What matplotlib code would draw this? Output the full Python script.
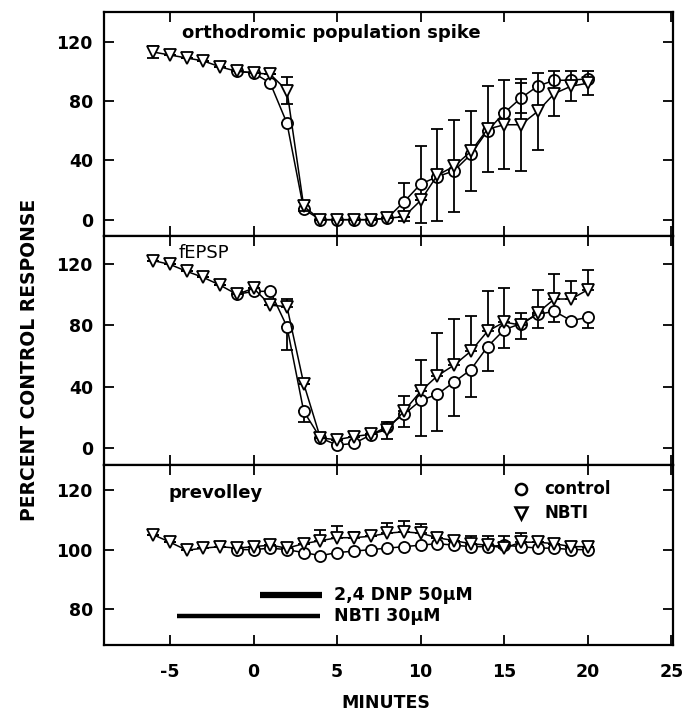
import matplotlib
matplotlib.use("Agg")
import matplotlib.pyplot as plt

# time axis (minutes)
min_nbti = [-6, -5, -4, -3, -2, -1, 0, 1, 2, 3, 4, 5, 6, 7, 8, 9, 10, 11, 12, 13, 14, 15, 16, 17, 18, 19, 20]
min_ctrl = [-1, 0, 1, 2, 3, 4, 5, 6, 7, 8, 9, 10, 11, 12, 13, 14, 15, 16, 17, 18, 19, 20]

# orthodromic population spike
spike_nbti = [113, 111, 109, 107, 103, 100, 99, 98, 87, 9, 0, 0, 0, 0, 1, 2, 13, 30, 36, 46, 61, 64, 64, 73, 85, 90, 92]
spike_nbti_err = [4, 0, 0, 0, 0, 0, 0, 0, 9, 3, 0, 0, 0, 0, 0, 0, 0, 31, 31, 27, 29, 30, 31, 26, 15, 10, 8]
spike_ctrl = [100, 99, 92, 65, 7, 0, 0, 0, 0, 1, 12, 24, 29, 33, 44, 60, 72, 82, 90, 94, 94, 95]
spike_ctrl_err = [0, 0, 0, 0, 0, 0, 0, 0, 0, 0, 13, 26, 0, 0, 0, 0, 0, 10, 0, 0, 0, 0]

# fEPSP
fepsp_nbti = [122, 119.5, 115, 111, 106, 100, 104, 93, 92, 42, 6.5, 5.5, 7.5, 9, 12, 24, 37, 47, 54, 63, 76, 82, 80, 88, 97, 97, 103]
fepsp_nbti_err = [0, 0, 0, 0, 0, 0, 0, 0, 5, 0, 0, 0, 0, 0, 5, 10, 20, 28, 30, 23, 26, 22, 8, 15, 16, 12, 13]
fepsp_ctrl = [100, 102, 102, 79, 24, 6.5, 2, 3, 8.5, 14, 22, 31, 35, 43, 51, 66, 77, 81, 87, 89, 83, 85]
fepsp_ctrl_err = [0, 0, 0, 15, 7, 0, 0, 0, 0, 8, 8, 23, 24, 22, 18, 16, 12, 10, 9, 7, 0, 7]

# prevolley
pv_nbti = [105, 102.5, 99.8, 100.5, 101, 100.5, 101, 101.5, 100.5, 102, 103, 104, 104, 104.5, 105.5, 106, 105.5, 104, 103, 102, 101.5, 100.5, 102.5, 102.5, 102, 101, 101]
pv_nbti_err = [0, 0, 0, 0, 0, 0, 0, 0, 0, 0, 3.5, 4, 2, 0, 3.5, 3.5, 3, 0, 0, 2.5, 3, 4, 3, 0, 0, 0, 0]
pv_ctrl = [100, 100, 100.5, 100, 99, 98, 99, 99.5, 100, 100.5, 101, 101.5, 102, 101.5, 101, 101, 101.5, 101, 100.5, 100.5, 100, 100]

# drug application periods
dnp_period = [0.4, 4.1]
nbti_period = [-4.6, 4.0]

plt.rcParams["font.family"] = "DejaVu Sans"
plt.rcParams["axes.unicode_minus"] = False

W, H = 684, 714
fig = plt.figure(figsize=(W / 100, H / 100), dpi=100)

left, right = 104 / W, 673 / W
edges = [12, 236, 465, 645]
ylims = [(-11, 140), (-11, 138), (68, 128.4)]
yticks = [[0, 40, 80, 120], [0, 40, 80, 120], [80, 100, 120]]

axes = []
for i in range(3):
    top = 1 - edges[i] / H
    bot = 1 - edges[i + 1] / H
    ax = fig.add_axes([left, bot, right - left, top - bot])
    ax.set_xlim(-8.95, 25.1)
    ax.set_ylim(*ylims[i])
    ax.set_yticks(yticks[i])
    ax.set_xticks([-5, 0, 5, 10, 15, 20, 25])
    ax.tick_params(direction="in", top=True, right=True, length=7, width=1.3,
                   labelsize=12.5)
    ax.tick_params(axis="y", pad=8)
    ax.tick_params(axis="x", pad=13)
    for lab in ax.get_yticklabels():
        lab.set_fontweight("bold")
    for s in ax.spines.values():
        s.set_linewidth(1.6)
    if i < 2:
        ax.tick_params(labelbottom=False)
    axes.append(ax)

for lab in axes[2].get_xticklabels():
    lab.set_fontweight("bold")

tri = dict(marker="v", ms=8.5, mfc="white", mec="black", mew=1.3, color="black", lw=1.1)
circ = dict(marker="o", ms=8, mfc="white", mec="black", mew=1.3, color="black", lw=1.1)
ebar = dict(ecolor="black", elinewidth=1.3, capsize=4, capthick=1.3)

# top: symmetric bars
ax = axes[0]
ax.errorbar(min_ctrl, spike_ctrl, yerr=spike_ctrl_err, zorder=2, **circ, **ebar)
ax.errorbar(min_nbti, spike_nbti, yerr=spike_nbti_err, zorder=3, **tri, **ebar)
ax.text(-4.3, 126, "orthodromic population spike", fontsize=13, va="center",
        fontweight="bold")

# middle: NBTI bars up, control bars down
ax = axes[1]
zeros_n = [0] * len(min_nbti)
zeros_c = [0] * len(min_ctrl)
ax.errorbar(min_ctrl, fepsp_ctrl, yerr=[fepsp_ctrl_err, zeros_c], zorder=2, **circ, **ebar)
ax.errorbar(min_nbti, fepsp_nbti, yerr=[zeros_n, fepsp_nbti_err], zorder=3, **tri, **ebar)
ax.text(-4.5, 127, "fEPSP", fontsize=13, va="center")

# bottom
ax = axes[2]
ax.plot(min_ctrl, pv_ctrl, zorder=2, **circ)
ax.errorbar(min_nbti, pv_nbti, yerr=[zeros_n, pv_nbti_err], zorder=3, **tri, **ebar)
ax.text(-5.1, 119, "prevolley", fontsize=13, va="center", fontweight="bold")
ax.plot(dnp_period, [84.7, 84.7], color="black", lw=4.5, solid_capstyle="butt")
ax.plot(nbti_period, [77.8, 77.8], color="black", lw=3.2, solid_capstyle="butt")
ax.text(4.8, 84.7, "2,4 DNP 50μM", fontsize=12.5, va="center", fontweight="bold")
ax.text(4.8, 77.8, "NBTI 30μM", fontsize=12.5, va="center", fontweight="bold")
ax.plot([16.0], [120.4], linestyle="none", marker="o", ms=8, mfc="white", mec="black", mew=1.8)
ax.plot([16.0], [112.2], linestyle="none", marker="v", ms=8.5, mfc="white", mec="black", mew=1.8)
ax.text(17.4, 120.4, "control", fontsize=12, va="center", fontweight="bold")
ax.text(17.4, 112.2, "NBTI", fontsize=12, va="center", fontweight="bold")

fig.text(30 / W, 1 - 360 / H, "PERCENT CONTROL RESPONSE", rotation=90,
         ha="center", va="center", fontsize=13.5, fontweight="bold")
fig.text(386 / W, 1 - 703 / H, "MINUTES", ha="center", va="center",
         fontsize=12.5, fontweight="bold")

fig.savefig("out.png", dpi=100)
